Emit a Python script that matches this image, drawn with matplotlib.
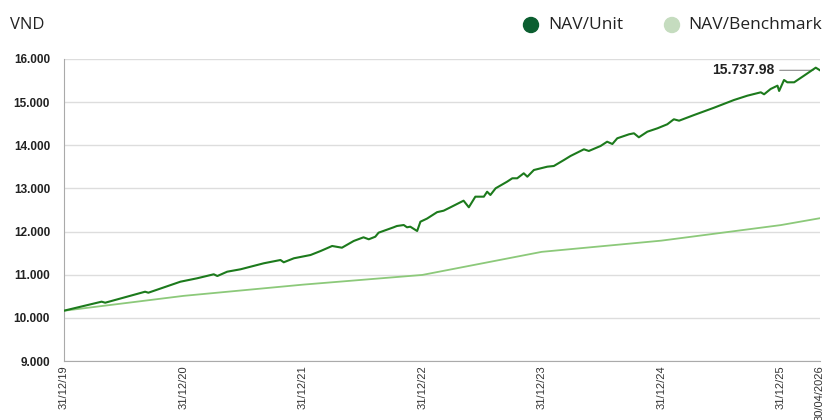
import matplotlib
matplotlib.use("Agg")
import matplotlib.pyplot as plt
from matplotlib.ticker import FuncFormatter
import pandas as pd

nav_dates = ["2019-12-31", "2020-04-24", "2020-05-05", "2020-09-04", "2020-09-14",
             "2020-12-21", "2021-02-10", "2021-04-02", "2021-04-13", "2021-05-13",
             "2021-06-23", "2021-09-02", "2021-10-23", "2021-11-02", "2021-12-03",
             "2022-01-23", "2022-02-23", "2022-03-30", "2022-04-29", "2022-06-04",
             "2022-07-04", "2022-07-20", "2022-08-09", "2022-08-19", "2022-10-04",
             "2022-10-14", "2022-11-04", "2022-11-14", "2022-11-24", "2022-12-15",
             "2022-12-25", "2023-01-14", "2023-02-14", "2023-03-06", "2023-03-27",
             "2023-05-06", "2023-05-22", "2023-06-11", "2023-07-07", "2023-07-17",
             "2023-07-27", "2023-08-12", "2023-09-16", "2023-10-02", "2023-10-17",
             "2023-11-06", "2023-11-17", "2023-12-07", "2024-01-17", "2024-02-06",
             "2024-03-08", "2024-03-28", "2024-05-08", "2024-05-23", "2024-06-28",
             "2024-07-18", "2024-08-03", "2024-08-18", "2024-09-23", "2024-10-08",
             "2024-10-23", "2024-11-18", "2024-12-19", "2025-01-18", "2025-02-07",
             "2025-02-23", "2025-04-10", "2025-06-10", "2025-08-10", "2025-09-20",
             "2025-10-31", "2025-11-10", "2025-11-30", "2025-12-21", "2025-12-26",
             "2026-01-10", "2026-01-20", "2026-02-10", "2026-03-12", "2026-04-17",
             "2026-04-30"]
nav_values = [10166, 10375, 10351, 10606, 10583,
              10838, 10917, 11010, 10970, 11070,
              11126, 11265, 11341, 11288, 11381,
              11457, 11550, 11666, 11626, 11782,
              11867, 11821, 11881, 11974, 12099,
              12129, 12152, 12099, 12113, 12013,
              12229, 12300, 12450, 12484, 12563,
              12716, 12563, 12809, 12809, 12924,
              12848, 13003, 13156, 13235, 13235,
              13351, 13272, 13427, 13504, 13520,
              13659, 13752, 13907, 13868, 13984,
              14083, 14030, 14162, 14255, 14278,
              14185, 14315, 14394, 14487, 14603,
              14570, 14702, 14871, 15050, 15150,
              15228, 15182, 15305, 15382, 15259,
              15514, 15460, 15460, 15613, 15799,
              15737.98]

bench_dates = ["2019-12-31", "2020-12-31", "2021-12-31", "2022-12-31",
               "2023-12-31", "2024-12-31", "2025-12-31", "2026-04-30"]
bench_values = [10165, 10510, 10770, 10995, 11530, 11790, 12150, 12310]

tick_dates = ["2019-12-31", "2020-12-31", "2021-12-31", "2022-12-31",
              "2023-12-31", "2024-12-31", "2025-12-31", "2026-04-30"]
tick_labels = ["31/12/19", "31/12/20", "31/12/21", "31/12/22",
               "31/12/23", "31/12/24", "31/12/25", "30/04/2026"]
y_ticks = [9000, 10000, 11000, 12000, 13000, 14000, 15000, 16000]

nav_d = pd.to_datetime(nav_dates)
bench_d = pd.to_datetime(bench_dates)
tick_d = pd.to_datetime(tick_dates)

fig = plt.figure(figsize=(8.25, 4.2), dpi=100)
ax = fig.add_axes([64/825, (420-361)/420, (820-64)/825, (361-59)/420])

ax.plot(bench_d, bench_values, color="#8cc97a", lw=1.3, zorder=3)
ax.plot(nav_d, nav_values, color="#1c7a1c", lw=1.5, zorder=4)

ax.set_xlim(pd.Timestamp("2019-12-31"), pd.Timestamp("2026-04-30"))
ax.set_ylim(9000, 16000)
ax.set_yticks(y_ticks)
ax.yaxis.set_major_formatter(FuncFormatter(lambda v, p: f"{int(v):,}".replace(",", ".")))
ax.tick_params(axis="y", length=0, pad=10, labelsize=8.5, labelcolor="#222222")
ax.set_xticks(tick_d)
ax.set_xticklabels(tick_labels, rotation=90, fontsize=8, color="#333333")
ax.tick_params(axis="x", length=0, pad=3)
for lab in ax.get_yticklabels() + ax.get_xticklabels():
    lab.set_family("Liberation Sans")
for lab in ax.get_yticklabels():
    lab.set_fontweight("bold")

ax.grid(axis="y", color="#dddddd", lw=1)
ax.set_axisbelow(True)
for s in ["top", "right"]:
    ax.spines[s].set_visible(False)
ax.spines["left"].set_color("#aaaaaa")
ax.spines["bottom"].set_color("#aaaaaa")

# last value annotation
last_d = nav_d[-1]
last_v = nav_values[-1]
ax.annotate(f"{last_v:,.2f}".replace(",", "."), xy=(last_d, last_v),
            xytext=(-33, 0), textcoords="offset points",
            ha="right", va="center", fontsize=10, fontweight="bold",
            family="Liberation Sans", color="#222222",
            arrowprops=dict(arrowstyle="-", color="#888888", lw=0.8,
                            shrinkA=2, shrinkB=5))

# header
fig.text(10/825, 1 - 25/420, "VND", ha="left", va="center", fontsize=12,
         family="Open Sans", color="#222222")
fig.patches.append(matplotlib.patches.Ellipse((531/825, 1 - 25/420), 15/825, 15/420,
                                              transform=fig.transFigure, color="#0b5e30"))
fig.text(548/825, 1 - 25/420, "NAV/Unit", ha="left", va="center", fontsize=12.5,
         family="Open Sans", color="#222222")
fig.patches.append(matplotlib.patches.Ellipse((672/825, 1 - 25/420), 15/825, 15/420,
                                              transform=fig.transFigure, color="#c5dcbf"))
fig.text(688/825, 1 - 25/420, "NAV/Benchmark", ha="left", va="center", fontsize=12.5,
         family="Open Sans", color="#222222")

fig.savefig("out.png", dpi=100)
